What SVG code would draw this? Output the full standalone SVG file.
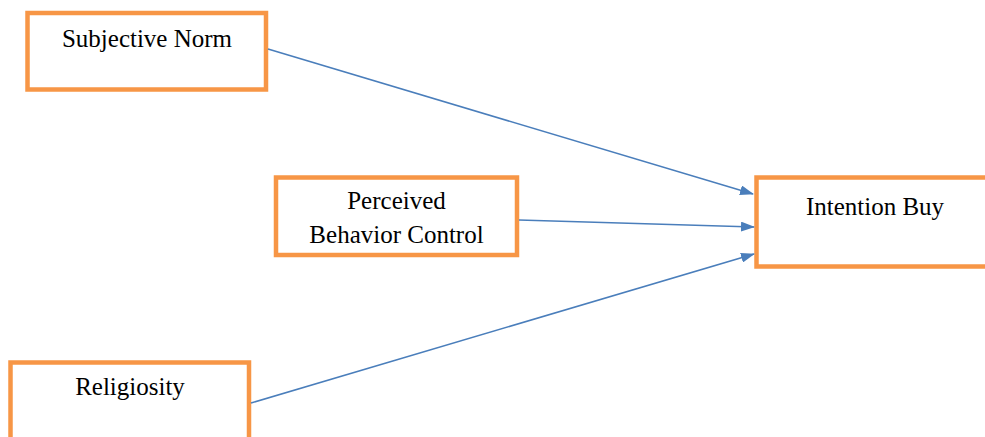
<svg xmlns="http://www.w3.org/2000/svg" width="985" height="437" viewBox="0 0 985 437">
<style>
.box{fill:#fff;stroke:#F79646;stroke-width:4.5}
.lbl{font-family:'Liberation Serif','Times New Roman',serif;font-size:25px;fill:#000;text-anchor:middle}
.conn{stroke:#4A7EBB;stroke-width:1.6;fill:none;marker-end:url(#ah)}
</style>
<defs>
<marker id="ah" markerWidth="14" markerHeight="10" refX="13" refY="5" orient="auto" markerUnits="userSpaceOnUse">
<path d="M0,0 L14,5 L0,10 Z" fill="#4A7EBB"/>
</marker>
</defs>
<rect width="985" height="437" fill="#fff"/>
<g id="node-subjective-norm">
<rect class="box" x="27.5" y="13" width="238.5" height="76.5"/>
<text class="lbl" x="147" y="47">Subjective Norm</text>
</g>
<g id="node-perceived-behavior-control">
<rect class="box" x="276" y="177.5" width="241" height="77.5"/>
<text class="lbl" x="396.5" y="209">Perceived</text>
<text class="lbl" x="396.5" y="243">Behavior Control</text>
</g>
<g id="node-intention-buy">
<rect class="box" x="756.5" y="177.5" width="237" height="89"/>
<text class="lbl" x="875" y="215">Intention Buy</text>
</g>
<g id="node-religiosity">
<rect class="box" x="10.5" y="362.5" width="238.5" height="90"/>
<text class="lbl" x="130" y="395">Religiosity</text>
</g>
<g id="connectors">
<line class="conn" x1="268" y1="49" x2="753" y2="194"/>
<line class="conn" x1="519" y1="220" x2="754" y2="227"/>
<line class="conn" x1="251" y1="403" x2="754" y2="254"/>
</g>
</svg>
